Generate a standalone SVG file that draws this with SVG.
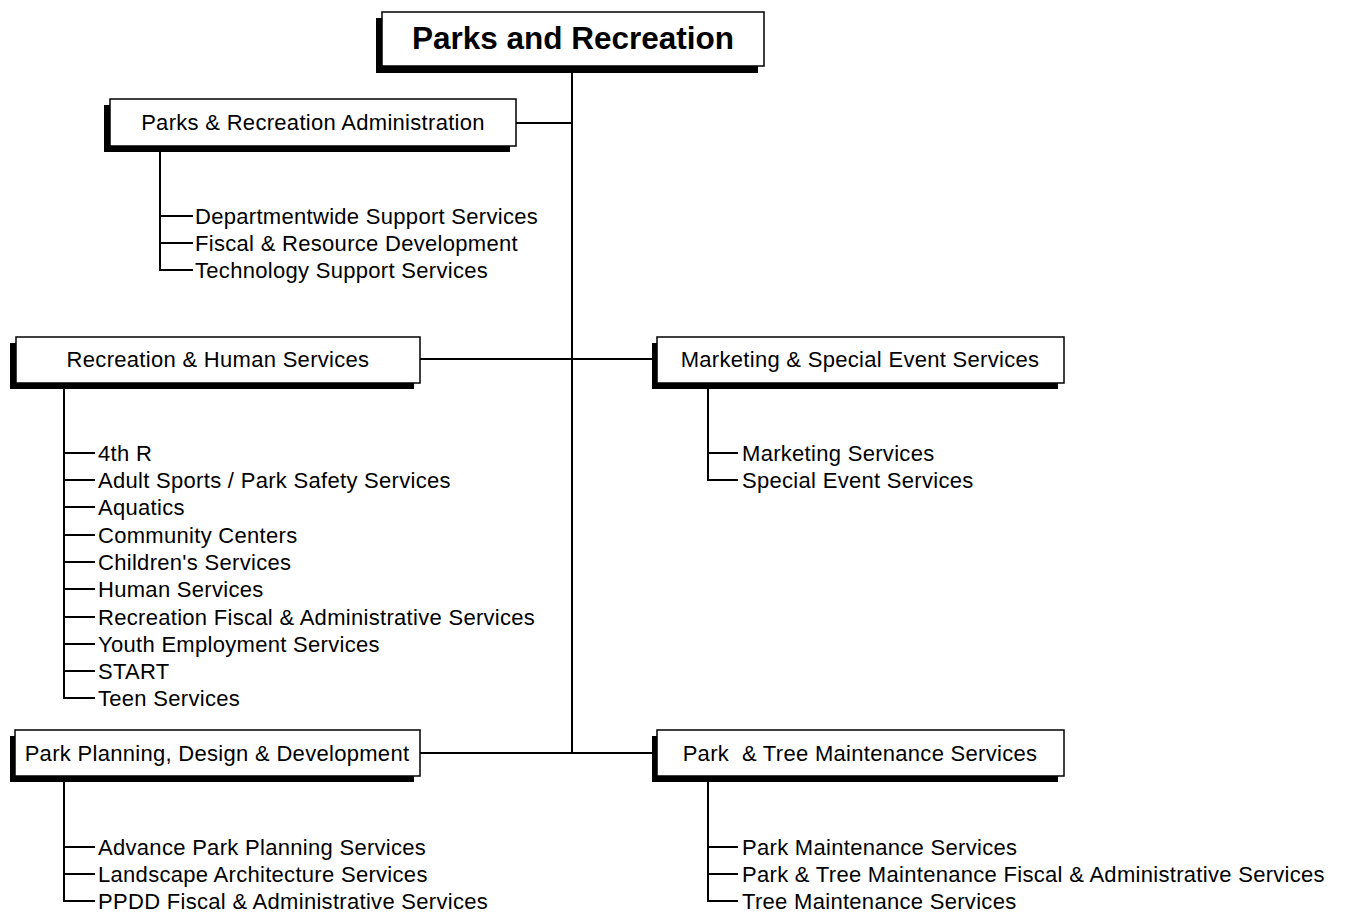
<svg xmlns="http://www.w3.org/2000/svg" width="1345" height="915" viewBox="0 0 1345 915">
<defs>
<style>
.shadow{fill:#000}
.box{fill:#fff;stroke:#000;stroke-width:1.5}
.bt{font-family:"Liberation Sans",Arial,sans-serif;font-size:22px;letter-spacing:0.3px;fill:#000;text-anchor:middle}
.title{font-family:"Liberation Sans",Arial,sans-serif;font-size:31.5px;font-weight:bold;fill:#000;text-anchor:middle}
.it{font-family:"Liberation Sans",Arial,sans-serif;font-size:22px;letter-spacing:0.3px;fill:#000}
.ln{stroke:#000;stroke-width:2;fill:none}
</style>
</defs>
<rect width="1345" height="915" fill="#fff"/>
<g id="connectors">
<path class="ln" d="M572,67 V753 M516,123 H572 M420,359 H657 M420,753 H657"/>
<path class="ln" d="M160,146 V270 H193 M160,216 H193 M160,243 H193"/>
<path class="ln" d="M64,383 V698 H95 M64,453 H95 M64,480 H95 M64,507 H95 M64,535 H95 M64,562 H95 M64,589 H95 M64,617 H95 M64,644 H95 M64,671 H95"/>
<path class="ln" d="M708,383 V480 H738 M708,453 H738"/>
<path class="ln" d="M64,776 V901 H95 M64,847 H95 M64,874 H95"/>
<path class="ln" d="M708,776 V901 H738 M708,847 H738 M708,874 H738"/>
</g>
<g id="root">
<rect class="shadow" x="376" y="18" width="382" height="55"/>
<rect class="box" x="382" y="12" width="382" height="54"/>
<text class="title" x="573" y="49">Parks and Recreation</text>
</g>
<g id="admin">
<rect class="shadow" x="104" y="105" width="406" height="47"/>
<rect class="box" x="110" y="99" width="406" height="47"/>
<text class="bt" x="313" y="130">Parks &amp; Recreation Administration</text>
<text class="it" x="195" y="224">Departmentwide Support Services</text>
<text class="it" x="195" y="251">Fiscal &amp; Resource Development</text>
<text class="it" x="195" y="278">Technology Support Services</text>
</g>
<g id="rec">
<rect class="shadow" x="10" y="343" width="404" height="46"/>
<rect class="box" x="16" y="337" width="404" height="46"/>
<text class="bt" x="218" y="367">Recreation &amp; Human Services</text>
<text class="it" x="98" y="461">4th R</text>
<text class="it" x="98" y="488">Adult Sports / Park Safety Services</text>
<text class="it" x="98" y="515">Aquatics</text>
<text class="it" x="98" y="543">Community Centers</text>
<text class="it" x="98" y="570">Children's Services</text>
<text class="it" x="98" y="597">Human Services</text>
<text class="it" x="98" y="625">Recreation Fiscal &amp; Administrative Services</text>
<text class="it" x="98" y="652">Youth Employment Services</text>
<text class="it" x="98" y="679">START</text>
<text class="it" x="98" y="706">Teen Services</text>
</g>
<g id="marketing">
<rect class="shadow" x="652" y="343" width="406" height="46"/>
<rect class="box" x="657" y="337" width="407" height="46"/>
<text class="bt" x="860" y="367">Marketing &amp; Special Event Services</text>
<text class="it" x="742" y="461">Marketing Services</text>
<text class="it" x="742" y="488">Special Event Services</text>
</g>
<g id="ppdd">
<rect class="shadow" x="10" y="736" width="404" height="46"/>
<rect class="box" x="15" y="730" width="405" height="46"/>
<text class="bt" x="217" y="761">Park Planning, Design &amp; Development</text>
<text class="it" x="98" y="855">Advance Park Planning Services</text>
<text class="it" x="98" y="882">Landscape Architecture Services</text>
<text class="it" x="98" y="909">PPDD Fiscal &amp; Administrative Services</text>
</g>
<g id="tree">
<rect class="shadow" x="652" y="736" width="406" height="46"/>
<rect class="box" x="657" y="730" width="407" height="46"/>
<text class="bt" x="860" y="761" xml:space="preserve">Park  &amp; Tree Maintenance Services</text>
<text class="it" x="742" y="855">Park Maintenance Services</text>
<text class="it" x="742" y="882">Park &amp; Tree Maintenance Fiscal &amp; Administrative Services</text>
<text class="it" x="742" y="909">Tree Maintenance Services</text>
</g>
</svg>
